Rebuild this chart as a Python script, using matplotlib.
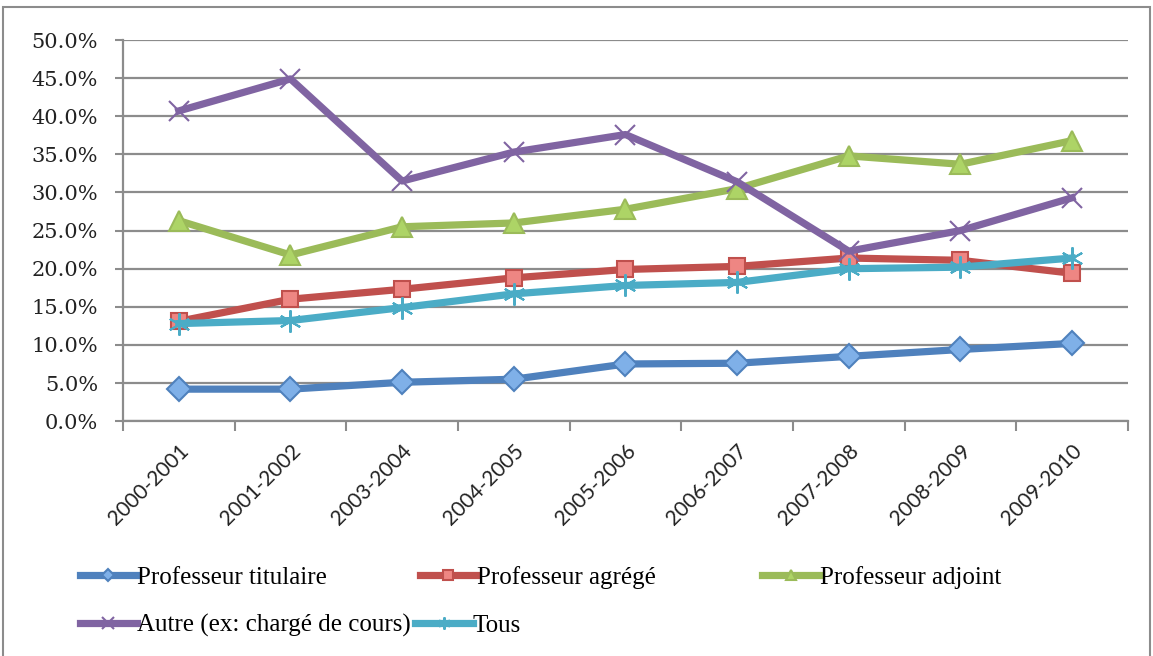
import matplotlib.pyplot as plt
from matplotlib.patches import Rectangle
from matplotlib.ticker import PercentFormatter

years = ["2000-2001", "2001-2002", "2003-2004", "2004-2005", "2005-2006",
         "2006-2007", "2007-2008", "2008-2009", "2009-2010"]

titulaire = [4.2, 4.2, 5.1, 5.5, 7.5, 7.6, 8.5, 9.4, 10.2]
agrege = [13.1, 16.0, 17.3, 18.8, 19.9, 20.3, 21.4, 21.1, 19.4]
adjoint = [26.3, 21.8, 25.5, 26.0, 27.8, 30.5, 34.8, 33.7, 36.8]
autre = [40.7, 44.9, 31.5, 35.3, 37.6, 31.4, 22.3, 25.0, 29.3]
tous = [12.8, 13.2, 14.9, 16.7, 17.8, 18.2, 20.0, 20.2, 21.4]

series = [
    ("Professeur titulaire", titulaire, "#4F81BD", "#7FB0E8", "D", 12),
    ("Professeur agrégé", agrege, "#C0504D", "#EE8683", "s", 12),
    ("Professeur adjoint", adjoint, "#9BBB59", "#ADD466", "^", 14),
    ("Autre (ex: chargé de cours)", autre, "#8064A2", "#8064A2", "x", 15),
    ("Tous", tous, "#4BACC6", "#4BACC6", (6, 2, 0), 16),
]

fig = plt.figure(figsize=[11.53, 6.56], dpi=100)
ax = fig.add_axes([0.1067, 0.358, 0.8715, 0.581])

x = list(range(len(years)))
lines = []
for label, vals, col, fill, mk, ms in series:
    ln, = ax.plot(x, vals, color=col, lw=5.2, marker=mk, markersize=ms,
                  markerfacecolor=fill, markeredgecolor=col,
                  markeredgewidth=1.5, label=label, zorder=3)
    lines.append(ln)

ax.set_xlim(-0.5, len(years) - 0.5)
ax.set_ylim(0, 50)
ax.set_yticks([i * 5 for i in range(11)])
ax.yaxis.set_major_formatter(PercentFormatter(decimals=1))
ax.grid(axis="y", color="#8c8c8c", lw=1.6, zorder=0)

ax.set_xticks(x)
ax.set_xticklabels(years, rotation=45, ha="right", rotation_mode="anchor")
ax.set_xticks([i - 0.5 for i in range(len(years) + 1)], minor=True)
ax.tick_params(axis="x", which="major", length=0, pad=14)
ax.tick_params(axis="x", which="minor", length=7, width=1.5, color="#8c8c8c")
ax.tick_params(axis="y", length=6, width=1.5, color="#8c8c8c", pad=12)

for lab in ax.get_xticklabels():
    lab.set_fontfamily("Lato")
    lab.set_fontsize(15)
    lab.set_color("#222222")
for lab in ax.get_yticklabels():
    lab.set_fontfamily("DejaVu Serif")
    lab.set_fontsize(15)
    lab.set_color("#222222")

for s in ["top", "right"]:
    ax.spines[s].set_visible(False)
for s in ["left", "bottom"]:
    ax.spines[s].set_color("#8c8c8c")
    ax.spines[s].set_linewidth(1.6)

# legend entries placed the way the original flows them
legend_pos = [(0.069, 0.12), (0.364, 0.12), (0.661, 0.12),
              (0.069, 0.046), (0.360, 0.046)]
for ln, pos in zip(lines, legend_pos):
    leg = fig.legend([ln], [ln.get_label()], loc="center left",
                     bbox_to_anchor=pos, frameon=False, handlelength=2.3,
                     handletextpad=0.0, borderpad=0, borderaxespad=0,
                     markerscale=0.55,
                     prop={"family": "Liberation Serif", "size": 18})

# outer frame of the chart
fig.patches.append(Rectangle((0.003, -0.01), 0.994, 0.999, transform=fig.transFigure,
                             fill=False, edgecolor="#8c8c8c", lw=1.5))

fig.savefig("out.png", dpi=100)
